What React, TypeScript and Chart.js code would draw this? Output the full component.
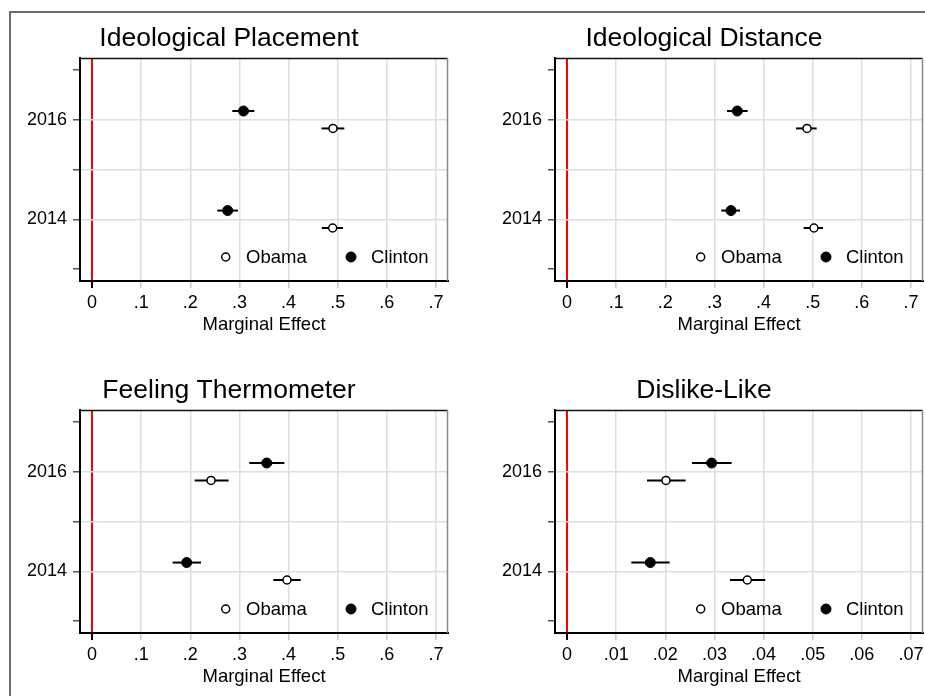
import React, { useEffect, useRef } from 'react';
import { Chart, registerables } from 'chart.js';

Chart.register(...registerables);

const FONT = "'Liberation Sans', Arial, Helvetica, sans-serif";

// ---------- data ----------
const seriesNames = ['Obama', 'Clinton'];
const yearValues = [2014, 2016];
const yTickValues = [2013, 2014, 2015, 2016, 2017];
const yTickLabels = ['', '2014', '', '2016', ''];
const yGridYears = [2014, 2015, 2016];

const xTickValuesA = [0, 0.1, 0.2, 0.3, 0.4, 0.5, 0.6, 0.7];
const xTickLabelsA = ['0', '.1', '.2', '.3', '.4', '.5', '.6', '.7'];
const xTickValuesB = [0, 0.01, 0.02, 0.03, 0.04, 0.05, 0.06, 0.07];
const xTickLabelsB = ['0', '.01', '.02', '.03', '.04', '.05', '.06', '.07'];
const xRangeA = [-0.0244, 0.7244];
const xRangeB = [-0.00244, 0.07244];
const yRange = [2012.76, 2017.24];

const panelTitles = ['Ideological Placement', 'Ideological Distance', 'Feeling Thermometer', 'Dislike-Like'];
const xAxisTitle = 'Marginal Effect';

// values are [2014, 2016]
const placementObama = [0.4897, 0.4904];
const placementObamaLow = [0.4676, 0.467];
const placementObamaHigh = [0.5107, 0.5134];
const placementClinton = [0.2761, 0.3083];
const placementClintonLow = [0.2549, 0.2855];
const placementClintonHigh = [0.2971, 0.3303];

const distanceObama = [0.5026, 0.4884];
const distanceObamaLow = [0.4815, 0.466];
const distanceObamaHigh = [0.521, 0.508];
const distanceClinton = [0.3337, 0.3466];
const distanceClintonLow = [0.314, 0.3256];
const distanceClintonHigh = [0.352, 0.3676];

const thermoObama = [0.3968, 0.2422];
const thermoObamaLow = [0.369, 0.209];
const thermoObamaHigh = [0.4247, 0.278];
const thermoClinton = [0.1927, 0.3555];
const thermoClintonLow = [0.164, 0.32];
const thermoClintonHigh = [0.2218, 0.3914];

const dislikeObama = [0.03669, 0.02014];
const dislikeObamaLow = [0.03316, 0.01628];
const dislikeObamaHigh = [0.04035, 0.02414];
const dislikeClinton = [0.01695, 0.02943];
const dislikeClintonLow = [0.01309, 0.02544];
const dislikeClintonHigh = [0.02089, 0.0335];

// ---------- style ----------
const ROW_OFFSET = 0.175;
const CANVAS_W = 440;
const CANVAS_H = 352;

function buildDatasets(
  obEst: number[], obLo: number[], obHi: number[],
  clEst: number[], clLo: number[], clHi: number[]
) {
  const ds: any[] = [];
  ds.push({
    label: seriesNames[0],
    data: yearValues.map((yr, i) => ({ x: obEst[i], y: yr - ROW_OFFSET })),
    pointRadius: 4,
    pointBackgroundColor: '#ffffff',
    pointBorderColor: '#000000',
    pointBorderWidth: 1.5,
    order: 0,
  });
  ds.push({
    label: seriesNames[1],
    data: yearValues.map((yr, i) => ({ x: clEst[i], y: yr + ROW_OFFSET })),
    pointRadius: 5,
    pointBackgroundColor: '#000000',
    pointBorderColor: '#000000',
    pointBorderWidth: 1,
    order: 0,
  });
  yearValues.forEach((yr, i) => {
    ds.push({
      label: '',
      data: [{ x: obLo[i], y: yr - ROW_OFFSET }, { x: obHi[i], y: yr - ROW_OFFSET }],
      showLine: true, borderColor: '#000', borderWidth: 2, pointRadius: 0, order: 1,
    });
    ds.push({
      label: '',
      data: [{ x: clLo[i], y: yr + ROW_OFFSET }, { x: clHi[i], y: yr + ROW_OFFSET }],
      showLine: true, borderColor: '#000', borderWidth: 2, pointRadius: 0, order: 1,
    });
  });
  return ds;
}

const framePlugin = {
  id: 'frame',
  beforeDatasetsDraw(chart: any) {
    const { ctx, chartArea: a } = chart;
    ctx.save();
    ctx.lineWidth = 1.5;
    ctx.strokeStyle = '#111';
    ctx.beginPath();
    ctx.moveTo(a.left, a.top + 0.5);
    ctx.lineTo(a.right, a.top + 0.5);
    ctx.stroke();
    ctx.strokeStyle = '#8a8a8a';
    ctx.beginPath();
    ctx.moveTo(a.right - 0.5, a.top);
    ctx.lineTo(a.right - 0.5, a.bottom);
    ctx.stroke();
    ctx.restore();
  },
};

const legendPlugin = {
  id: 'insideLegend',
  afterDatasetsDraw(chart: any) {
    const { ctx, chartArea: a } = chart;
    const y = a.bottom - 24;
    const entries = chart.data.datasets.filter((d: any) => seriesNames.includes(d.label));
    const markerX = [145.7, 271];
    const textX = [166, 291];
    ctx.save();
    entries.forEach((d: any, i: number) => {
      ctx.beginPath();
      ctx.arc(a.left + markerX[i], y, d.pointRadius, 0, Math.PI * 2);
      ctx.fillStyle = d.pointBackgroundColor;
      ctx.fill();
      ctx.lineWidth = d.pointBorderWidth;
      ctx.strokeStyle = d.pointBorderColor;
      ctx.stroke();
      ctx.font = `18.5px ${FONT}`;
      ctx.fillStyle = '#000';
      ctx.textBaseline = 'middle';
      ctx.textAlign = 'left';
      ctx.fillText(d.label, a.left + textX[i], y + 1);
    });
    ctx.restore();
  },
};

type PanelCfg = {
  title: string;
  datasets: any[];
  xTicks: number[];
  xLabels: string[];
  xRange: number[];
  left: number;
  top: number;
};

function Panel({ cfg }: { cfg: PanelCfg }) {
  const ref = useRef<HTMLCanvasElement | null>(null);
  useEffect(() => {
    if (!ref.current) return;
    const chart = new Chart(ref.current, {
      type: 'scatter',
      data: { datasets: cfg.datasets },
      options: {
        animation: false,
        responsive: false,
        events: [],
        layout: { autoPadding: false, padding: { left: 0, right: 2, top: 0, bottom: 0 } },
        plugins: {
          legend: { display: false },
          tooltip: { enabled: false },
          title: {
            display: true,
            text: cfg.title,
            color: '#000',
            font: { family: FONT, size: 26.5, weight: 'normal', lineHeight: 1.2 },
            padding: { top: 11.9, bottom: 3.3 },
          },
        },
        scales: {
          x: {
            type: 'linear',
            position: 'bottom',
            min: cfg.xRange[0],
            max: cfg.xRange[1],
            afterBuildTicks: (axis: any) => {
              axis.ticks = cfg.xTicks.map((v) => ({ value: v }));
            },
            afterFit: (axis: any) => {
              axis.height = 82;
              axis.paddingLeft = 0;
              axis.paddingRight = 0;
            },
            ticks: {
              autoSkip: false,
              maxRotation: 0,
              padding: 4,
              color: '#000',
              font: { family: FONT, size: 18 },
              callback: (v: any) => {
                const idx = cfg.xTicks.indexOf(Number(v));
                return idx >= 0 ? cfg.xLabels[idx] : '';
              },
            },
            grid: {
              color: (c: any) => (c.tick && c.tick.value === 0 ? '#ff0000' : '#dedede'),
              lineWidth: (c: any) => (c.tick && c.tick.value === 0 ? 2 : 1.5),
              tickColor: (c: any) => (c.tick && c.tick.value === 0 ? '#000' : '#c8c8c8'),
              tickWidth: (c: any) => (c.tick && c.tick.value === 0 ? 2 : 1.5),
              tickLength: 7,
            },
            border: { display: true, color: '#000', width: 2 },
            title: {
              display: true,
              text: xAxisTitle,
              color: '#000',
              font: { family: FONT, size: 18.5 },
              padding: { top: 0, bottom: 27.4 },
            },
          },
          y: {
            type: 'linear',
            position: 'left',
            min: yRange[0],
            max: yRange[1],
            afterBuildTicks: (axis: any) => {
              axis.ticks = yTickValues.map((v) => ({ value: v }));
            },
            afterFit: (axis: any) => {
              axis.width = 70;
              axis.paddingTop = 0;
              axis.paddingBottom = 0;
            },
            ticks: {
              autoSkip: false,
              padding: 6,
              color: '#000',
              font: { family: FONT, size: 18 },
              callback: (v: any) => {
                const idx = yTickValues.indexOf(Number(v));
                return idx >= 0 ? yTickLabels[idx] : '';
              },
            },
            grid: {
              color: (c: any) => (c.tick && yGridYears.includes(c.tick.value) ? '#dedede' : 'rgba(0,0,0,0)'),
              lineWidth: 1.5,
              tickColor: '#555',
              tickWidth: 1.5,
              tickLength: 7,
            },
            border: { display: true, color: '#000', width: 2 },
          },
        },
      },
      plugins: [framePlugin, legendPlugin],
    } as any);
    return () => chart.destroy();
  }, [cfg]);
  return (
    <canvas
      ref={ref}
      width={CANVAS_W}
      height={CANVAS_H}
      style={{ position: 'absolute', left: cfg.left, top: cfg.top, width: CANVAS_W, height: CANVAS_H, display: 'block' }}
    />
  );
}

const panels: PanelCfg[] = [
  {
    title: panelTitles[0],
    datasets: buildDatasets(placementObama, placementObamaLow, placementObamaHigh, placementClinton, placementClintonLow, placementClintonHigh),
    xTicks: xTickValuesA, xLabels: xTickLabelsA, xRange: xRangeA, left: 10, top: 11,
  },
  {
    title: panelTitles[1],
    datasets: buildDatasets(distanceObama, distanceObamaLow, distanceObamaHigh, distanceClinton, distanceClintonLow, distanceClintonHigh),
    xTicks: xTickValuesA, xLabels: xTickLabelsA, xRange: xRangeA, left: 485, top: 11,
  },
  {
    title: panelTitles[2],
    datasets: buildDatasets(thermoObama, thermoObamaLow, thermoObamaHigh, thermoClinton, thermoClintonLow, thermoClintonHigh),
    xTicks: xTickValuesA, xLabels: xTickLabelsA, xRange: xRangeA, left: 10, top: 363,
  },
  {
    title: panelTitles[3],
    datasets: buildDatasets(dislikeObama, dislikeObamaLow, dislikeObamaHigh, dislikeClinton, dislikeClintonLow, dislikeClintonHigh),
    xTicks: xTickValuesB, xLabels: xTickLabelsB, xRange: xRangeB, left: 485, top: 363,
  },
];

export default function App() {
  return (
    <div style={{ position: 'fixed', left: 0, top: 0, width: 925, height: 696, overflow: 'hidden', background: '#fff' }}>
      <div
        style={{
          position: 'absolute', left: 9, top: 11, width: 2000, height: 2000,
          borderLeft: '2px solid #6b6b6b', borderTop: '2px solid #6b6b6b',
        }}
      />
      {panels.map((p, i) => (
        <Panel key={i} cfg={p} />
      ))}
    </div>
  );
}
